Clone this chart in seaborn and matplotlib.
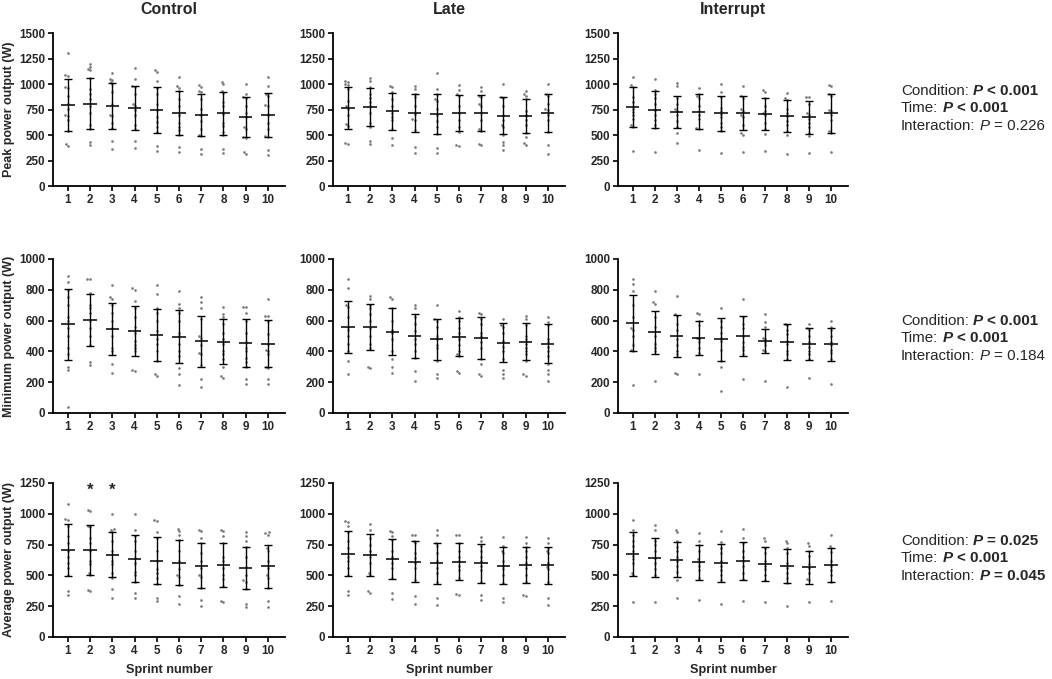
import numpy as np
import pandas as pd
import matplotlib
matplotlib.use("Agg")
import matplotlib.pyplot as plt
import seaborn as sns
import warnings

warnings.filterwarnings("ignore")

sprints = [1, 2, 3, 4, 5, 6, 7, 8, 9, 10]
conditions = ["Control", "Late", "Interrupt"]
measures = ["Peak power output (W)", "Minimum power output (W)", "Average power output (W)"]
y_ticks = [[0, 250, 500, 750, 1000, 1250, 1500],
           [0, 200, 400, 600, 800, 1000],
           [0, 250, 500, 750, 1000, 1250]]

# ---- Peak power ----
peak_control_mean = [793, 809, 785, 768, 745, 715, 697, 712, 678, 698]
peak_control_sd = [257, 248, 221, 216, 226, 213, 205, 209, 199, 213]
peak_control_pts = [
    [1300, 1090, 1080, 970, 960, 880, 800, 760, 700, 690, 650, 540, 410, 390],
    [1200, 1170, 1150, 1140, 1060, 950, 900, 850, 780, 720, 600, 560, 430, 400],
    [1110, 1050, 1040, 1020, 1000, 920, 800, 700, 690, 620, 570, 440, 360],
    [1160, 1050, 980, 970, 900, 800, 780, 750, 700, 600, 560, 440, 370],
    [1140, 1120, 1030, 960, 900, 800, 750, 680, 630, 580, 530, 390, 340],
    [1070, 980, 960, 930, 850, 780, 700, 620, 580, 550, 500, 380, 330],
    [990, 970, 930, 920, 850, 760, 700, 640, 560, 500, 490, 360, 310],
    [1020, 1000, 930, 910, 820, 780, 710, 620, 590, 530, 500, 360, 320],
    [1000, 900, 870, 860, 780, 720, 680, 580, 560, 480, 470, 330, 310],
    [1070, 980, 900, 880, 790, 780, 700, 620, 560, 490, 480, 350, 300],
]
peak_late_mean = [763, 773, 734, 714, 707, 714, 714, 688, 685, 714]
peak_late_sd = [208, 188, 182, 185, 198, 178, 174, 182, 167, 185]
peak_late_pts = [
    [1030, 1020, 1000, 990, 950, 830, 780, 760, 700, 610, 590, 420, 410],
    [1060, 1030, 970, 900, 860, 820, 780, 720, 620, 580, 440, 410],
    [980, 970, 920, 850, 780, 720, 680, 650, 560, 470, 400],
    [980, 950, 900, 870, 780, 710, 660, 650, 550, 380, 320],
    [1110, 950, 900, 850, 830, 760, 700, 640, 580, 510, 370, 320],
    [990, 940, 900, 880, 780, 720, 650, 580, 530, 400, 390],
    [970, 930, 880, 870, 800, 780, 720, 650, 560, 540, 410, 400],
    [1000, 870, 860, 780, 700, 650, 600, 580, 500, 430, 400, 350],
    [930, 900, 880, 850, 740, 700, 650, 600, 520, 480, 420, 400],
    [1000, 900, 880, 800, 760, 750, 700, 650, 530, 400, 310],
]
peak_interrupt_mean = [776, 750, 724, 730, 714, 717, 708, 688, 675, 714]
peak_interrupt_sd = [198, 185, 158, 170, 173, 168, 155, 158, 160, 189]
peak_interrupt_pts = [
    [1070, 990, 970, 870, 820, 760, 730, 700, 660, 600, 580, 340],
    [1050, 940, 900, 860, 800, 750, 700, 650, 600, 570, 330],
    [1010, 980, 860, 800, 760, 740, 700, 640, 580, 520, 420],
    [960, 900, 880, 860, 780, 740, 700, 660, 570, 560, 350],
    [1000, 920, 870, 770, 740, 710, 680, 620, 580, 540, 320],
    [980, 880, 860, 760, 740, 700, 680, 600, 520, 500, 330],
    [940, 920, 860, 780, 740, 720, 700, 620, 560, 510, 340],
    [910, 860, 840, 760, 720, 690, 640, 600, 540, 500, 310],
    [870, 870, 800, 720, 700, 660, 620, 580, 520, 490, 320],
    [990, 980, 900, 880, 750, 740, 700, 650, 540, 520, 330],
]

# ---- Minimum power ----
min_control_mean = [575, 603, 547, 531, 505, 495, 466, 462, 453, 451]
min_control_sd = [233, 170, 168, 163, 167, 173, 165, 145, 154, 154]
min_control_pts = [
    [890, 850, 800, 750, 700, 620, 600, 550, 500, 420, 380, 300, 280, 40],
    [870, 870, 780, 700, 680, 650, 600, 550, 500, 440, 330, 310],
    [830, 750, 740, 700, 650, 600, 550, 500, 420, 400, 320, 260],
    [810, 800, 730, 680, 620, 560, 520, 470, 440, 420, 400, 280, 270],
    [830, 770, 680, 650, 600, 530, 480, 450, 400, 340, 250, 240],
    [790, 710, 680, 650, 600, 520, 500, 450, 400, 370, 290, 250, 180],
    [750, 720, 680, 610, 500, 490, 440, 390, 380, 310, 220, 170],
    [690, 640, 620, 580, 520, 480, 450, 400, 380, 350, 300, 240, 230],
    [690, 690, 650, 600, 520, 460, 420, 400, 360, 330, 300, 220, 190],
    [740, 630, 630, 600, 510, 450, 410, 400, 380, 300, 290, 220, 190],
]
min_late_mean = [560, 560, 527, 499, 479, 492, 486, 455, 464, 451]
min_late_sd = [169, 149, 152, 143, 134, 122, 135, 127, 118, 127]
min_late_pts = [
    [870, 810, 700, 690, 620, 560, 540, 500, 450, 400, 340, 250],
    [760, 740, 700, 680, 640, 600, 550, 500, 450, 420, 300, 290],
    [750, 740, 680, 600, 540, 520, 480, 400, 350, 300, 260],
    [700, 680, 620, 580, 530, 480, 450, 400, 360, 270, 210],
    [700, 610, 600, 560, 500, 480, 440, 420, 340, 250, 230],
    [660, 620, 600, 550, 520, 480, 440, 400, 380, 370, 270, 260],
    [650, 640, 610, 580, 520, 500, 460, 420, 350, 320, 250, 240],
    [610, 570, 560, 520, 470, 430, 400, 350, 280, 250, 230],
    [630, 610, 570, 500, 480, 450, 420, 400, 380, 340, 250, 240],
    [620, 590, 570, 480, 460, 430, 400, 370, 320, 280, 250, 210],
]
min_interrupt_mean = [586, 525, 501, 484, 479, 499, 469, 462, 449, 445]
min_interrupt_sd = [182, 140, 135, 110, 140, 128, 77, 115, 102, 105]
min_interrupt_pts = [
    [870, 840, 790, 700, 620, 550, 540, 500, 440, 410, 400, 180],
    [790, 720, 710, 620, 560, 500, 450, 420, 400, 210],
    [760, 640, 630, 580, 540, 480, 440, 400, 380, 260, 250],
    [650, 640, 600, 570, 490, 480, 460, 420, 390, 250],
    [680, 600, 560, 520, 490, 470, 410, 340, 300, 140],
    [740, 620, 580, 550, 500, 460, 430, 410, 380, 220],
    [640, 590, 560, 490, 480, 460, 440, 410, 400, 210],
    [580, 570, 540, 510, 470, 450, 400, 380, 350, 170],
    [580, 550, 540, 500, 460, 430, 400, 380, 350, 230],
    [600, 560, 540, 500, 460, 440, 410, 390, 350, 190],
]

# ---- Average power ----
avg_control_mean = [706, 706, 668, 636, 620, 603, 579, 584, 563, 574]
avg_control_sd = [215, 206, 184, 188, 190, 183, 180, 175, 170, 176]
avg_control_pts = [
    [1080, 960, 950, 900, 820, 760, 700, 650, 600, 560, 500, 370, 340],
    [1030, 1020, 900, 890, 800, 760, 700, 620, 590, 520, 500, 380, 370],
    [1000, 880, 870, 850, 780, 700, 620, 590, 520, 480, 390, 320],
    [1000, 870, 820, 780, 700, 640, 600, 530, 500, 450, 360, 320],
    [950, 940, 850, 800, 700, 620, 550, 520, 480, 430, 320, 290],
    [880, 860, 830, 790, 700, 620, 550, 500, 490, 420, 330, 270],
    [870, 860, 800, 760, 680, 620, 560, 500, 490, 400, 300, 250],
    [870, 860, 820, 760, 650, 620, 560, 500, 470, 410, 290, 280],
    [850, 820, 780, 730, 650, 570, 500, 460, 450, 390, 270, 240],
    [850, 840, 830, 720, 700, 620, 560, 500, 480, 400, 290, 240],
]
avg_late_mean = [676, 666, 633, 612, 598, 612, 598, 579, 587, 582]
avg_late_sd = [185, 168, 165, 164, 168, 153, 157, 150, 146, 148]
avg_late_pts = [
    [940, 930, 900, 850, 780, 720, 650, 620, 560, 500, 370, 340],
    [920, 870, 800, 750, 700, 650, 600, 520, 500, 370, 360],
    [860, 850, 820, 790, 700, 650, 600, 560, 480, 360, 310],
    [830, 830, 780, 760, 680, 640, 600, 560, 460, 330, 270],
    [870, 830, 760, 740, 680, 620, 560, 520, 450, 320, 260],
    [830, 830, 760, 700, 650, 620, 580, 540, 480, 350, 340],
    [810, 780, 740, 700, 650, 620, 580, 540, 450, 340, 300],
    [810, 740, 700, 680, 620, 580, 550, 500, 440, 320, 280],
    [810, 760, 730, 700, 650, 600, 560, 500, 450, 340, 330],
    [800, 760, 720, 700, 680, 600, 570, 550, 450, 320, 260],
]
avg_interrupt_mean = [674, 644, 628, 606, 601, 617, 593, 579, 566, 584]
avg_interrupt_sd = [176, 161, 142, 141, 152, 153, 136, 138, 133, 137]
avg_interrupt_pts = [
    [950, 870, 830, 780, 740, 700, 660, 630, 600, 520, 500, 280],
    [910, 870, 780, 750, 700, 640, 600, 550, 500, 280],
    [870, 850, 780, 730, 700, 650, 620, 580, 530, 460, 320],
    [840, 780, 750, 700, 630, 610, 580, 540, 480, 300],
    [860, 770, 720, 680, 620, 580, 540, 500, 460, 270],
    [880, 800, 760, 700, 650, 620, 580, 520, 470, 290],
    [800, 780, 720, 680, 620, 580, 550, 500, 460, 280],
    [780, 760, 720, 680, 600, 560, 520, 480, 440, 250],
    [760, 740, 700, 660, 590, 560, 520, 470, 460, 280],
    [830, 740, 720, 690, 620, 580, 540, 500, 450, 290],
]

# p-value annotations: (text, weight, style) pieces per line
stats_peak = [
    [("Condition:", "normal", "normal"), ("P", "bold", "italic"), ("< 0.001", "bold", "normal")],
    [("Time:", "normal", "normal"), ("P", "bold", "italic"), ("< 0.001", "bold", "normal")],
    [("Interaction:", "normal", "normal"), ("P", "normal", "italic"), ("= 0.226", "normal", "normal")],
]
stats_min = [
    [("Condition:", "normal", "normal"), ("P", "bold", "italic"), ("< 0.001", "bold", "normal")],
    [("Time:", "normal", "normal"), ("P", "bold", "italic"), ("< 0.001", "bold", "normal")],
    [("Interaction:", "normal", "normal"), ("P", "normal", "italic"), ("= 0.184", "normal", "normal")],
]
stats_avg = [
    [("Condition:", "normal", "normal"), ("P", "bold", "italic"), ("= 0.025", "bold", "normal")],
    [("Time:", "normal", "normal"), ("P", "bold", "italic"), ("< 0.001", "bold", "normal")],
    [("Interaction:", "normal", "normal"), ("P", "bold", "italic"), ("= 0.045", "bold", "normal")],
]

star_sprints = [2, 3]
star_level = 1190

panels = [
    [(peak_control_pts, peak_control_mean, peak_control_sd),
     (peak_late_pts, peak_late_mean, peak_late_sd),
     (peak_interrupt_pts, peak_interrupt_mean, peak_interrupt_sd)],
    [(min_control_pts, min_control_mean, min_control_sd),
     (min_late_pts, min_late_mean, min_late_sd),
     (min_interrupt_pts, min_interrupt_mean, min_interrupt_sd)],
    [(avg_control_pts, avg_control_mean, avg_control_sd),
     (avg_late_pts, avg_late_mean, avg_late_sd),
     (avg_interrupt_pts, avg_interrupt_mean, avg_interrupt_sd)],
]
stats_all = [stats_peak, stats_min, stats_avg]

sns.set_style("ticks")
plt.rcParams["font.family"] = ["Liberation Sans", "DejaVu Sans"]

fig = plt.figure(figsize=(10.52, 6.79), dpi=100)

col_left = [0.0504, 0.3165, 0.5875]
col_width = [0.2205, 0.2205, 0.2186]
row_bottom = [0.726, 0.3918, 0.0619]
row_height = [0.2253, 0.2268, 0.2268]


def to_frame(pts):
    rows = []
    for s, vals in zip(sprints, pts):
        for v in vals:
            rows.append({"sprint": s, "value": v})
    return pd.DataFrame(rows)


for r in range(3):
    for c in range(3):
        ax = fig.add_axes([col_left[c], row_bottom[r], col_width[c], row_height[r]])
        pts, mean, sd = panels[r][c]
        df = to_frame(pts)
        sns.swarmplot(data=df, x="sprint", y="value", native_scale=True,
                      size=1.9, color="#777777", linewidth=0, ax=ax,
                      warn_thresh=1, zorder=1)
        xs = np.array(sprints, dtype=float)
        ax.errorbar(xs, mean, yerr=sd, fmt="none", ecolor="black",
                    elinewidth=1.0, capsize=3.2, capthick=1.0, zorder=3)
        ax.hlines(mean, xs - 0.3, xs + 0.3, color="black", lw=1.1, zorder=3)

        ax.set_xlim(0.33, 10.77)
        ax.set_ylim(0, y_ticks[r][-1])
        ax.set_xticks(sprints)
        ax.set_xticklabels([str(s) for s in sprints])
        ax.set_yticks(y_ticks[r])
        ax.set_yticklabels([str(t) for t in y_ticks[r]])
        ax.tick_params(axis="both", length=3.5, width=1.2, labelsize=8.4,
                       pad=2, color="black")
        for lab in ax.get_xticklabels() + ax.get_yticklabels():
            lab.set_fontweight("bold")
        for sp in ["top", "right"]:
            ax.spines[sp].set_visible(False)
        for sp in ["left", "bottom"]:
            ax.spines[sp].set_linewidth(1.3)
            ax.spines[sp].set_color("black")

        if c == 0:
            ax.set_ylabel(measures[r], fontsize=9, fontweight="bold", labelpad=3)
        else:
            ax.set_ylabel("")
        if r == 2:
            ax.set_xlabel("Sprint number", fontsize=9.2, fontweight="bold", labelpad=5)
        else:
            ax.set_xlabel("")
        if r == 0:
            ax.set_title(conditions[c], fontsize=11.5, fontweight="bold", pad=14)
        if r == 2 and c == 0:
            for s in star_sprints:
                ax.text(s, star_level, "*", ha="center", va="center",
                        fontsize=12, fontweight="bold")

# p-value text on the right
overlay = fig.add_axes([0, 0, 1, 1])
overlay.set_axis_off()
overlay.set_xlim(0, 1)
overlay.set_ylim(0, 1)
group_top = [95, 325, 545]
line_gap = 17.5
for g, stats in enumerate(stats_all):
    for i, parts in enumerate(stats):
        y = 1 - (group_top[g] + i * line_gap) / 679
        txt, w, st = parts[0]
        t = overlay.text(901 / 1052, y, txt, fontsize=10.9, fontweight=w,
                         fontstyle=st, va="baseline", ha="left")
        for txt, w, st in parts[1:]:
            t = overlay.annotate(txt, xy=(1, 0), xycoords=t, xytext=(3.0, 0),
                                 textcoords="offset points", fontsize=10.9,
                                 fontweight=w, fontstyle=st, va="bottom", ha="left")

fig.savefig("out.png", dpi=100)
